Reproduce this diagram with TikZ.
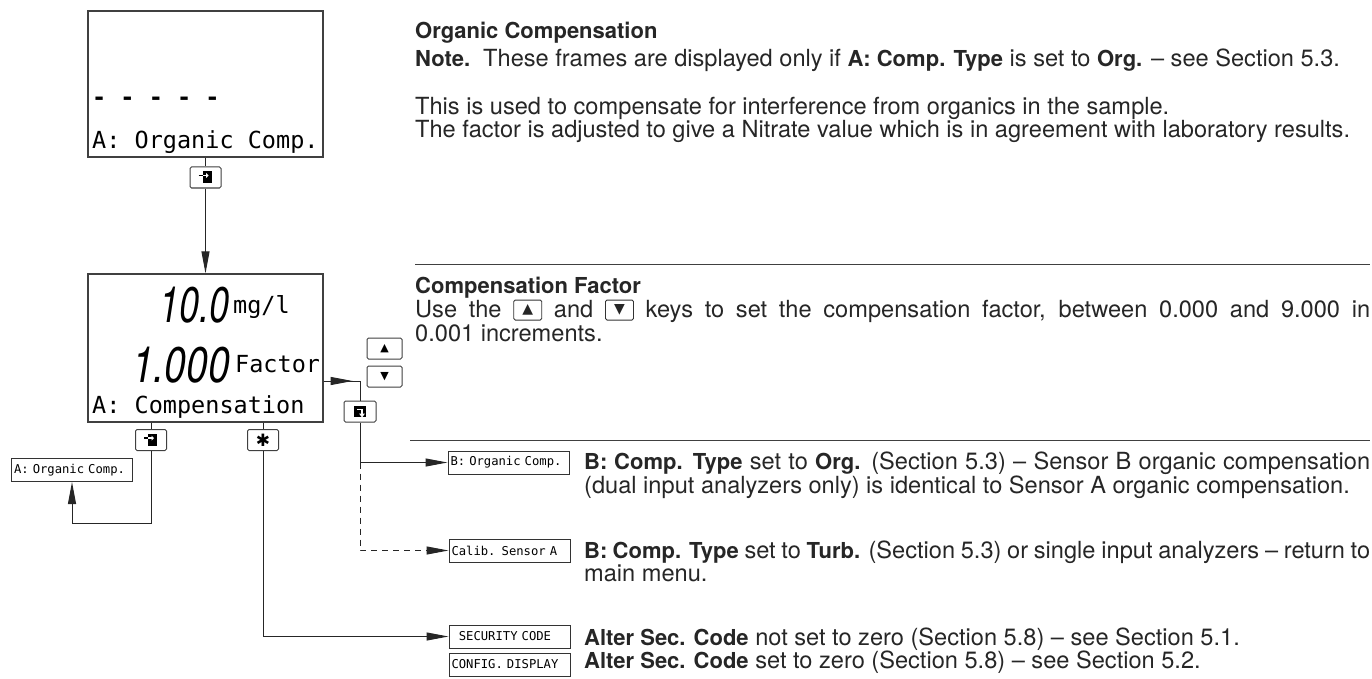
\documentclass[tikz,border=0pt]{standalone}
\usepackage{fontspec}
\setmainfont{TeX Gyre Heros}
\setmonofont{DejaVu Sans Mono}
\newfontfamily\symfont{DejaVu Sans}
\usetikzlibrary{
    arrows.meta,
    positioning,
    calc
}

% key drawn inside the running text
\newcommand{\txtkey}[1]{\raisebox{-3.5pt}{\tikz\node[draw=black!80, line width=0.9pt, rounded corners=1.5pt, minimum width=28pt, minimum height=20pt, inner sep=0pt, font=\symfont\fontsize{14}{14}\selectfont] {#1};}}
% bold terms in the running text
\newcommand{\term}[1]{{\fontsize{22}{24}\selectfont\bfseries #1}}
% first line of a justified paragraph
\newcommand{\fullline}[2]{\makebox[#1][s]{#2}}

\begin{document}
\begin{tikzpicture}[x=1pt, y=-1pt,
            lcd/.style={rectangle, draw=black!75, line width=1.3pt, minimum width=235pt, inner sep=0pt},
            lcd_text/.style={anchor=base west, inner sep=0pt, font=\ttfamily\fontsize{23.5}{24}\selectfont},
            seg_digits/.style={anchor=base east, inner sep=0pt, font=\itshape\fontsize{50}{50}\selectfont},
            keybox/.style={rectangle, draw=black!75, line width=1pt, rounded corners=1.5pt, minimum width=31pt, minimum height=21pt, inner sep=0pt, fill=white},
            menu_box/.style={rectangle, draw=black!80, line width=1pt, minimum width=121pt, minimum height=23pt, inner sep=2.5pt, text width=116pt, align=left, font=\ttfamily\fontsize{12.2}{12}\selectfont},
            body/.style={anchor=base west, inner sep=0pt, text=black!85, font=\fontsize{23.6}{24}\selectfont},
            flow_arrow/.style={-{Triangle[length=22pt, width=8pt]}, line width=1pt, black!85},
            flow_line/.style={line width=1pt, black!85},
            alt_dashed/.style={dash pattern=on 6pt off 5pt},
            sep_rule/.style={line width=1pt, black!75},
            enter icon/.pic={
                \fill (-3,-6) rectangle (6,6);
                \draw[white, line width=1.6pt] (-3,-2) -- (2,-2);
                \fill[white] (3,-2) -- (0.5,-4.5) -- (0.5,0.5) -- cycle;
                \draw[line width=1.6pt] (-7,-2) -- (-3,-2);
            },
            advance icon/.pic={
                \fill (-6,-6) rectangle (6,5);
                \draw[white, line width=1.5pt] (-3,-2) -- (2,-2) -- (2,3);
                \fill[white] (2,6) -- (-1,2) -- (5,2) -- cycle;
            }
        ]
        \useasboundingbox (0,0) rectangle (1372,679);

        % displays
        \node[lcd, minimum height=146pt] (org_disp) at (205.5,84) {};
        \node[lcd_text, font=\ttfamily\bfseries\fontsize{23.5}{24}\selectfont] (dashes) at (92,106) {- - - - -};
        \node[lcd_text] (org_title) at (92,149) {A: Organic Comp.};

        \node[keybox] (enter_a) at (205.5,177.5) {};
        \pic at (enter_a) {enter icon};

        \node[lcd, minimum height=148pt] (comp_disp) at (205.5,348) {};
        \node[seg_digits] (reading) at (230,322) {\scalebox{0.72}[1]{10.0}};
        \node[lcd_text] (unit) at (233,313) {mg/l};
        \node[seg_digits] (factor_val) at (230,382) {\scalebox{0.78}[1]{1.000}};
        \node[lcd_text] (factor_lbl) at (235,372) {Factor};
        \node[lcd_text] (comp_title) at (92,413) {A: Compensation};

        % keys
        \node[keybox] (enter_b) at (151,440) {};
        \pic at (enter_b) {enter icon};
        \node[keybox, font=\symfont\fontsize{17}{17}\selectfont] (star) at (263,440) {✱};
        \node[keybox, minimum width=35pt, font=\symfont\fontsize{11}{11}\selectfont] (up_key) at (384.5,348.5) {▲};
        \node[keybox, minimum width=35pt, font=\symfont\fontsize{11}{11}\selectfont] (down_key) at (384.5,376.5) {▼};
        \node[keybox, minimum width=32pt] (advance) at (360,411.5) {};
        \pic at (advance) {advance icon};

        % menu boxes
        \node[menu_box] (org_a) at (72,470) {A: Organic Comp.};
        \node[menu_box] (org_b) at (508.5,462.5) {B: Organic Comp.};
        \node[menu_box] (calib) at (509.5,550.5) {Calib. Sensor A};
        \node[menu_box] (sec_code) at (509.5,636.5) {\hphantom{S}SECURITY CODE};
        \node[menu_box] (config) at (509.5,664.5) {CONFIG. DISPLAY};

        % connectors
        \draw[flow_line] (org_disp) -- (enter_a);
        \draw[flow_arrow] (enter_a) -- (comp_disp);

        \coordinate (loop_a) at (151,523);
        \draw[flow_line] (comp_disp.south -| enter_b) -- (enter_b);
        \draw[flow_arrow] (enter_b) -- (loop_a) -| (org_a);

        \draw[flow_line] (comp_disp.south -| star) -- (star);
        \draw[flow_arrow] (star) |- (sec_code);

        \coordinate (adv_in) at (comp_disp.east |- {(0,381)});
        \draw[flow_line] (adv_in) -| (advance);
        \draw[flow_arrow] (adv_in) -- ++(29,0);

        \coordinate (split) at (advance |- org_b);
        \draw[flow_line] (advance) -- (split);
        \draw[flow_arrow] (split) -- (org_b);
        \draw[flow_arrow, alt_dashed] (split) |- (calib);

        % separators
        \draw[sep_rule] (415,264) -- (1370,264);
        \draw[sep_rule] (410,440) -- (1370,440);

        % text
        \node[body] (h_org) at (415,39) {\term{Organic Compensation}};
        \node[body] (note) at (415,67) {\term{Note.}\ \ These frames are displayed only if \term{A: Comp. Type} is set to \term{Org.} -- see Section 5.3.};
        \node[body] (use_a) at (415,115) {This is used to compensate for interference from organics in the sample.};
        \node[body] (use_b) at (415,138) {The factor is adjusted to give a Nitrate value which is in agreement with laboratory results.};

        \node[body] (h_fac) at (415,293) {\term{Compensation Factor}};
        \node[body] (fac_a) at (415,317) {\fullline{955pt}{Use the \txtkey{▲} and \txtkey{▼} keys to set the compensation factor, between 0.000 and 9.000 in}};
        \node[body] (fac_b) at (415,341) {0.001 increments.};

        \node[body] (b_org_a) at (584,469) {\fullline{786pt}{\term{B: Comp. Type} set to \term{Org.} (Section 5.3) -- Sensor B organic compensation}};
        \node[body] (b_org_b) at (584,493) {(dual input analyzers only) is identical to Sensor A organic compensation.};
        \node[body] (b_turb_a) at (584,558) {\fullline{786pt}{\term{B: Comp. Type} set to \term{Turb.} (Section 5.3) or single input analyzers -- return to}};
        \node[body] (b_turb_b) at (584,581) {main menu.};
        \node[body] (sec_a) at (584,645) {\term{Alter Sec. Code} not set to zero (Section 5.8) -- see Section 5.1.};
        \node[body] (sec_b) at (584,668) {\term{Alter Sec. Code} set to zero (Section 5.8) -- see Section 5.2.};

        \end{tikzpicture}
\end{document}
